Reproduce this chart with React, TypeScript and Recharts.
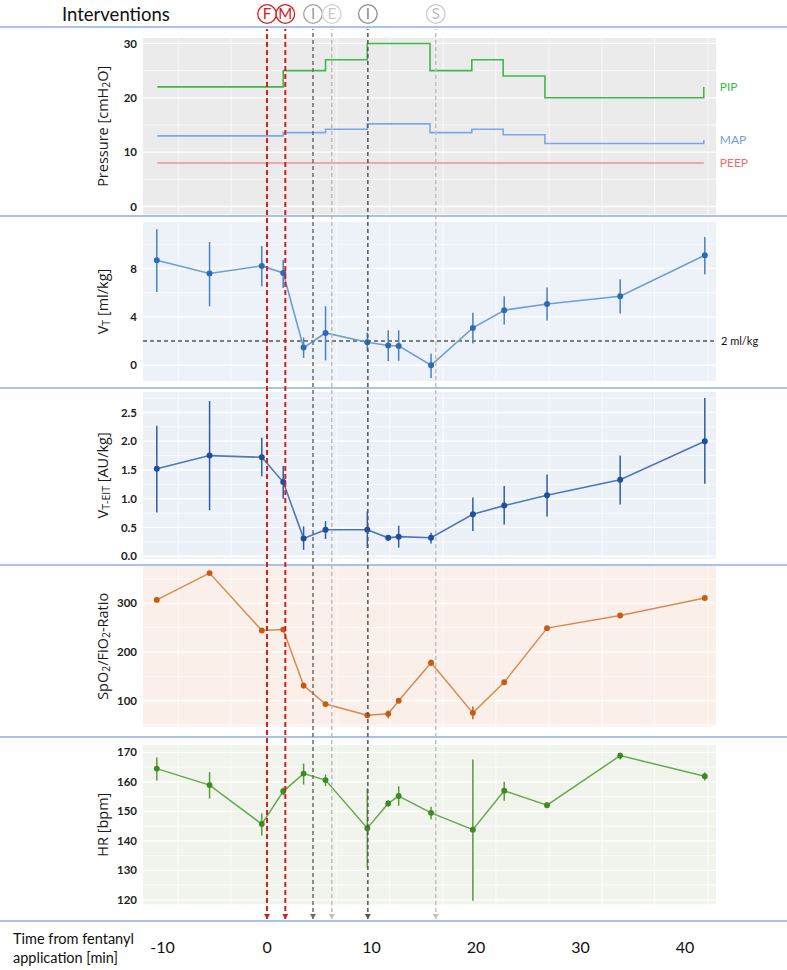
import {
  CartesianGrid,
  ComposedChart,
  ErrorBar,
  LabelList,
  Line,
  ReferenceLine,
  Scatter,
  XAxis,
  YAxis,
} from 'recharts';

const W = 787;
const X_DOMAIN: [number, number] = [-11.87, 42.97];
const PAD = 8;

// measurement times (min from fentanyl)
const times = [-10.55, -5.5, -0.5, 1.55, 3.5, 5.6, 9.6, 11.6, 12.6, 15.7, 19.7, 22.7, 26.8, 33.8, 41.9];
const xTicks = [-10, 0, 10, 20, 30, 40];
const gridX = [-8.5, -3.45, 1.6, 6.7, 11.75, 16.85, 21.9, 27, 32.05, 37.1, 42.2];

// ventilator settings (step changes)
const stepTimes = [-10.5, 1.55, 5.6, 9.6, 15.6, 19.6, 22.6, 26.6, 41.8, 41.8];
const pip = [22, 25, 27, 30, 25, 27, 24, 20, 20, 22];
const map = [13, 13.6, 14.2, 15.2, 13.6, 14.2, 13.2, 11.6, 11.6, 12.2];
const peep = [8, 8, 8, 8, 8, 8, 8, 8, 8, 8];

const vt = [8.68, 7.58, 8.21, 7.63, 1.46, 2.67, 1.9, 1.63, 1.6, 0, 3.09, 4.55, 5.07, 5.7, 9.09];
const vtLo = [6.06, 4.88, 6.53, 6.39, 0.61, 0.41, 1.18, 0.36, 0.36, -1.05, 1.79, 3.36, 3.69, 4.27, 7.52];
const vtHi = [11.24, 10.19, 9.86, 8.73, 2.29, 4.88, 2.7, 2.89, 2.89, 0.96, 4.33, 5.7, 6.42, 7.11, 10.6];

const eit = [1.52, 1.75, 1.72, 1.29, 0.31, 0.46, 0.46, 0.32, 0.34, 0.32, 0.73, 0.88, 1.06, 1.33, 2.0];
const eitLo = [0.76, 0.8, 1.39, 1.0, 0.11, 0.3, 0.14, 0.27, 0.15, 0.22, 0.44, 0.55, 0.69, 0.9, 1.26];
const eitHi = [2.27, 2.7, 2.06, 1.57, 0.52, 0.61, 0.78, 0.37, 0.53, 0.41, 1.02, 1.22, 1.42, 1.75, 2.75];

const spo2 = [307, 362, 244, 246, 131, 93, 70, 73, 100, 178, 75, 138, 249, 275, 311];
const spo2Lo = [302, 358, 239, 241, 125, 89, 66, 64, 96, 172, 62, 134, 246, 272, 308];
const spo2Hi = [312, 366, 248, 250, 137, 97, 74, 80, 104, 184, 88, 142, 252, 278, 314];

const hr = [164.5, 158.9, 145.7, 156.8, 162.8, 160.6, 144.3, 152.7, 155.2, 149.5, 143.8, 157, 152.1, 168.9, 161.9];
const hrLo = [160.5, 154.4, 141.8, 155.5, 159.1, 158.6, 130.9, 151.6, 151.9, 147.3, 119.7, 153.6, 151.2, 167.6, 160.5];
const hrHi = [168.3, 163.3, 149.3, 158.1, 166.2, 162.5, 157.8, 153.8, 158.5, 151.6, 167.6, 160, 153, 169.9, 163.2];

const interventionLabels = ['F', 'M', 'I', 'E', 'I', 'S'];
const interventionTimes = [0, 1.75, 4.4, 6.2, 9.65, 16.15];

// styles, by intervention index
const ivLine = ['#d0201f', '#d0201f', '#6b6b6b', '#bdbdbd', '#555555', '#c2c2c2'];
const ivRing = ['#d0201f', '#d0201f', '#a3a3a3', '#d4d4d4', '#8f8f8f', '#cccccc'];
const ivText = ['#d0201f', '#d0201f', '#9a9a9a', '#c9c9c9', '#888888', '#bdbdbd'];
const ivWidth = [2, 2, 1.5, 1.5, 1.5, 1.5];

const pressureRows = stepTimes.map((t, i) => ({ t, pip: pip[i], map: map[i], peep: peep[i] }));
const withErr = (v: number[], lo: number[], hi: number[]) =>
  times.map((t, i) => ({ t, v: v[i], err: [v[i] - lo[i], hi[i] - v[i]] }));
const interventionRows = interventionTimes.map((t, idx) => ({ t, idx, mid: 0.5, base: 0 }));

const sans = '"Open Sans", "DejaVu Sans", sans-serif';
const lato = 'Lato, "Open Sans", sans-serif';
const tickStyle = { fontSize: 11.5, fill: '#222', fontFamily: lato, fontWeight: 700 };

type Part = [string, boolean];

const axisTitle = (parts: Part[]) => (props: any) => {
  const vb = props.viewBox ?? { y: 0, height: 0 };
  const cy = vb.y + vb.height / 2;
  let shifted = false;
  return (
    <text
      x={102}
      y={cy}
      transform={`rotate(-90, 102, ${cy})`}
      textAnchor="middle"
      dominantBaseline="central"
      fill="#1a1a1a"
      fontFamily={sans}
      fontSize={14.5}
    >
      {parts.map(([txt, sub], i) => {
        const dy = sub && !shifted ? 4 : !sub && shifted ? -4 : 0;
        shifted = sub;
        return (
          <tspan key={i} dy={dy} fontSize={sub ? 10.5 : 14.5}>
            {txt}
          </tspan>
        );
      })}
    </text>
  );
};

const endLabel = (name: string, color: string, last: number) => (props: any) => {
  if (props.index !== last) return null;
  const x = props.x ?? props.viewBox?.x;
  const y = props.y ?? props.viewBox?.y;
  return (
    <text x={x + 16} y={y} dy="0.35em" fill={color} fontSize={12} fontFamily={lato}>
      {name}
    </text>
  );
};

function Panel({
  top,
  height,
  domain,
  ticks,
  minor,
  bg,
  title,
  data,
  format,
  children,
}: {
  top: number;
  height: number;
  domain: [number, number];
  ticks: number[];
  minor: number[];
  bg: string;
  title: Part[];
  data: any[];
  format?: (v: number) => string;
  children: React.ReactNode;
}) {
  return (
    <div style={{ position: 'absolute', left: 0, top: top - PAD, width: W, height: height + 2 * PAD }}>
      <ComposedChart
        width={W}
        height={height + 2 * PAD}
        data={data}
        margin={{ top: PAD, right: 71, bottom: PAD, left: 0 }}
      >
        <CartesianGrid fill={bg} stroke="#ffffff" strokeWidth={0.7} horizontalValues={minor} verticalValues={gridX} />
        <CartesianGrid stroke="#ffffff" strokeWidth={1.3} horizontalValues={ticks} vertical={false} />
        <XAxis type="number" dataKey="t" domain={X_DOMAIN} hide allowDataOverflow />
        <YAxis
          type="number"
          domain={domain}
          ticks={ticks}
          interval={0}
          width={143}
          allowDataOverflow
          axisLine={false}
          tickLine={false}
          tickSize={4}
          tickMargin={2}
          tick={tickStyle}
          tickFormatter={format}
          label={axisTitle(title)}
        />
        {children}
      </ComposedChart>
    </div>
  );
}

function Arrow(props: any) {
  const { cx, cy, payload } = props;
  const c = ivLine[payload.idx];
  return <path d={`M${cx - 3},${cy - 5}L${cx + 3},${cy - 5}L${cx},${cy}Z`} fill={c} />;
}

function Badge(props: any) {
  const { cx, cy, payload } = props;
  const i = payload.idx;
  return (
    <g>
      <circle cx={cx} cy={cy} r={9.3} fill="#fff" stroke={ivRing[i]} strokeWidth={1.3} />
      <text x={cx} y={cy} dy="0.36em" textAnchor="middle" fill={ivText[i]} fontSize={15} fontFamily={lato}>
        {interventionLabels[i]}
      </text>
    </g>
  );
}

const separators = [27, 216, 388, 565, 737, 921];

export default function App() {
  return (
    <div style={{ position: 'absolute', left: 0, top: 0, width: W, height: 970, background: '#fff' }}>
      <div
        style={{
          position: 'absolute',
          left: 62,
          top: 3,
          fontFamily: lato,
          fontSize: 18.5,
          lineHeight: '22px',
          color: '#111',
        }}
      >
        Interventions
      </div>

      <Panel
        top={37.5}
        height={176.5}
        domain={[-1.47, 31]}
        ticks={[0, 10, 20, 30]}
        minor={[5, 15, 25]}
        bg="#ebebeb"
        title={[['Pressure [cmH', false], ['2', true], ['O]', false]]}
        data={pressureRows}
      >
        <Line type="stepAfter" dataKey="peep" stroke="#ef8f8f" strokeWidth={1.4} dot={false} isAnimationActive={false}>
          <LabelList content={endLabel('PEEP', '#ee6f6f', peep.length - 1)} />
        </Line>
        <Line type="stepAfter" dataKey="map" stroke="#7aa7ee" strokeWidth={1.6} dot={false} isAnimationActive={false}>
          <LabelList content={endLabel('MAP', '#6f9be6', map.length - 1)} />
        </Line>
        <Line type="stepAfter" dataKey="pip" stroke="#3fb84b" strokeWidth={1.6} dot={false} isAnimationActive={false}>
          <LabelList content={endLabel('PIP', '#41b84a', pip.length - 1)} />
        </Line>
      </Panel>

      <Panel
        top={221.7}
        height={159}
        domain={[-1.3, 11.84]}
        ticks={[0, 4, 8]}
        minor={[2, 6, 10]}
        bg="#edf1f8"
        title={[['V', false], ['T', true], [' [ml/kg]', false]]}
        data={withErr(vt, vtLo, vtHi)}
      >
        <ReferenceLine
          y={2}
          stroke="#555"
          strokeWidth={1.4}
          strokeDasharray="4 3"
          label={{ value: '2 ml/kg', position: 'right', fill: '#111', fontSize: 11, fontFamily: lato }}
        />
        <Line
          type="linear"
          dataKey="v"
          stroke="#6e9fd2"
          strokeWidth={1.6}
          dot={{ r: 2.2, fill: '#2d6cb4', stroke: '#2d6cb4' }}
          isAnimationActive={false}
        >
          <ErrorBar dataKey="err" width={0} stroke="#4583c2" strokeWidth={1.5} direction="y" />
        </Line>
      </Panel>

      <Panel
        top={392.3}
        height={166.7}
        domain={[-0.043, 2.856]}
        ticks={[0, 0.5, 1, 1.5, 2, 2.5]}
        minor={[0.25, 0.75, 1.25, 1.75, 2.25, 2.75]}
        bg="#ecf1f8"
        title={[['V', false], ['T-EIT', true], [' [AU/kg]', false]]}
        data={withErr(eit, eitLo, eitHi)}
        format={(v) => v.toFixed(1)}
      >
        <Line
          type="linear"
          dataKey="v"
          stroke="#4d77bb"
          strokeWidth={1.6}
          dot={{ r: 2.2, fill: '#1f4f9e', stroke: '#1f4f9e' }}
          isAnimationActive={false}
        >
          <ErrorBar dataKey="err" width={0} stroke="#2f5da8" strokeWidth={1.5} direction="y" />
        </Line>
      </Panel>

      <Panel
        top={566}
        height={160.7}
        domain={[46.6, 376.6]}
        ticks={[100, 200, 300]}
        minor={[50, 150, 250, 350]}
        bg="#fbefe9"
        title={[['SpO', false], ['2', true], ['/FiO', false], ['2', true], ['-Ratio', false]]}
        data={withErr(spo2, spo2Lo, spo2Hi)}
      >
        <Line
          type="linear"
          dataKey="v"
          stroke="#d98a52"
          strokeWidth={1.5}
          dot={{ r: 2.2, fill: '#c85a12', stroke: '#c85a12' }}
          isAnimationActive={false}
        >
          <ErrorBar dataKey="err" width={0} stroke="#c8601c" strokeWidth={1.5} direction="y" />
        </Line>
      </Panel>

      <Panel
        top={745}
        height={159.3}
        domain={[118.5, 172.5]}
        ticks={[120, 130, 140, 150, 160, 170]}
        minor={[125, 135, 145, 155, 165]}
        bg="#f1f4ec"
        title={[['HR [bpm]', false]]}
        data={withErr(hr, hrLo, hrHi)}
      >
        <Line
          type="linear"
          dataKey="v"
          stroke="#6aa84f"
          strokeWidth={1.5}
          dot={{ r: 2.2, fill: '#3f8a22', stroke: '#3f8a22' }}
          isAnimationActive={false}
        >
          <ErrorBar dataKey="err" width={0} stroke="#5a9a3a" strokeWidth={1.5} direction="y" />
        </Line>
      </Panel>

      {separators.map((y) => (
        <div
          key={y}
          style={{ position: 'absolute', left: 0, top: y - 1, width: W, height: 2, background: '#a9c3e7' }}
        />
      ))}

      {/* intervention markers in the header row */}
      <div style={{ position: 'absolute', left: 0, top: 0, width: W, height: 28 }}>
        <ComposedChart width={W} height={28} data={interventionRows} margin={{ top: 0, right: 71, bottom: 0, left: 143 }}>
          <XAxis type="number" dataKey="t" domain={X_DOMAIN} hide allowDataOverflow />
          <YAxis type="number" domain={[0, 1]} hide width={0} />
          <Scatter dataKey="mid" shape={Badge} isAnimationActive={false} />
        </ComposedChart>
      </div>

      {/* dashed intervention lines through all panels */}
      <div style={{ position: 'absolute', left: 0, top: 29, width: W, height: 890 }}>
        <ComposedChart width={W} height={890} data={interventionRows} margin={{ top: 0, right: 71, bottom: 0, left: 143 }}>
          <XAxis type="number" dataKey="t" domain={X_DOMAIN} hide allowDataOverflow />
          <YAxis type="number" domain={[0, 1]} hide width={0} />
          {interventionTimes.map((t, i) => (
            <ReferenceLine
              key={i}
              x={t}
              stroke={ivLine[i]}
              strokeWidth={ivWidth[i]}
              strokeDasharray={i < 2 ? '5 3' : '4 3'}
            />
          ))}
          <Scatter dataKey="base" shape={Arrow} isAnimationActive={false} />
        </ComposedChart>
      </div>

      {/* time axis */}
      <div style={{ position: 'absolute', left: 0, top: 921, width: W, height: 49 }}>
        <ComposedChart width={W} height={49} data={interventionRows} margin={{ top: 0, right: 71, bottom: 0, left: 143 }}>
          <XAxis
            type="number"
            dataKey="t"
            domain={X_DOMAIN}
            ticks={xTicks}
            interval={0}
            allowDataOverflow
            height={40}
            axisLine={false}
            tickLine={false}
            tickSize={0}
            tickMargin={12}
            tick={{ fontSize: 16, fill: '#111', fontFamily: lato }}
          />
          <YAxis type="number" domain={[0, 1]} hide width={0} />
          <Scatter dataKey="base" fill="none" shape={() => <g />} isAnimationActive={false} />
        </ComposedChart>
      </div>
      <div
        style={{
          position: 'absolute',
          left: 13,
          top: 929,
          fontFamily: lato,
          fontSize: 14.5,
          lineHeight: '19px',
          color: '#111',
        }}
      >
        Time from fentanyl
        <br />
        application [min]
      </div>
    </div>
  );
}
